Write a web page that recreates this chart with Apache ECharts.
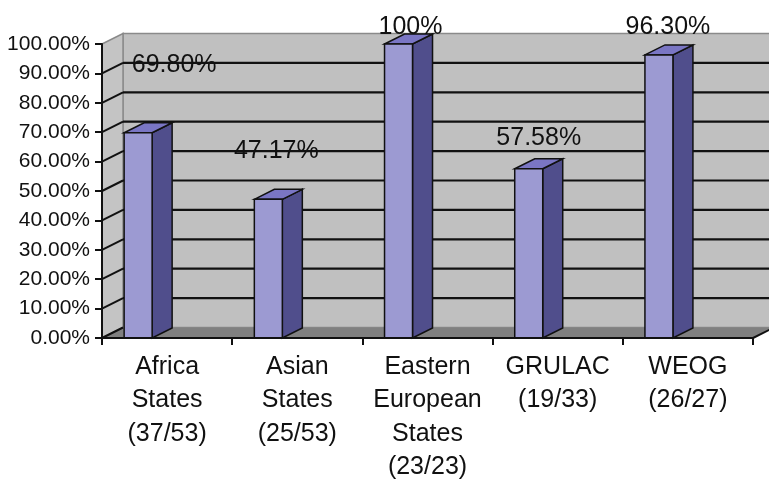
<!DOCTYPE html>
<html>
<head>
<meta charset="utf-8">
<script src="https://cdn.jsdelivr.net/npm/echarts@6/dist/echarts.min.js"></script>
<style>
  html, body { margin: 0; padding: 0; background: #fff; }
  #chart { width: 769px; height: 480px; }
</style>
</head>
<body>
<div id="chart"></div>
<script>
// data
let categories = ['Africa\nStates\n(37/53)', 'Asian\nStates\n(25/53)', 'Eastern\nEuropean\nStates\n(23/23)', 'GRULAC\n(19/33)', 'WEOG\n(26/27)'];
let shares = [0.698, 0.4717, 1.0, 0.5758, 0.963];
let shareLabels = ['69.80%', '47.17%', '100%', '57.58%', '96.30%'];
let gridValues = [0, 0.1, 0.2, 0.3, 0.4, 0.5, 0.6, 0.7, 0.8, 0.9, 1.0];

// label nudges (px), the labels were moved by hand in the original
let labelShift = [[36, -68], [8, -48], [12, -17], [10, -31], [9, -28]];

let font = '"Liberation Sans", Arial, sans-serif';
let depth = [21, -10.5];     // wall depth
let barDepth = [20, -10];    // column depth

function initChart(){
	let myChart = echarts.init(document.getElementById('chart'));

	function renderWalls(params, api){
		let cs = params.coordSys;
		let x0 = cs.x, x1 = cs.x + cs.width;
		let dx = depth[0], dy = depth[1];
		let yTop = api.coord([0, 1])[1];
		let yBot = api.coord([0, 0])[1];
		let children = [];
		// back wall
		children.push({
			type: 'polygon',
			shape: { points: [[x0 + dx, yTop + dy], [x1 + dx, yTop + dy], [x1 + dx, yBot + dy], [x0 + dx, yBot + dy]] },
			style: { fill: '#c0c0c0', stroke: '#8a8a8a', lineWidth: 1.5 }
		});
		// side wall
		children.push({
			type: 'polygon',
			shape: { points: [[x0, yTop], [x0 + dx, yTop + dy], [x0 + dx, yBot + dy], [x0, yBot]] },
			style: { fill: '#c4c4c4', stroke: '#8a8a8a', lineWidth: 1.5 }
		});
		// floor
		children.push({
			type: 'polygon',
			shape: { points: [[x0, yBot], [x0 + dx, yBot + dy], [x1 + dx, yBot + dy], [x1, yBot]] },
			style: { fill: '#808080' }
		});
		gridValues.forEach(function(v){
			if (v >= 1) return;
			let y = api.coord([0, v])[1];
			children.push({
				type: 'line',
				shape: { x1: x0, y1: y, x2: x0 + dx, y2: y + dy },
				style: { stroke: '#111', lineWidth: 2 }
			});
			if (v > 0) {
				children.push({
					type: 'line',
					shape: { x1: x0 + dx, y1: y + dy, x2: x1 + dx, y2: y + dy },
					style: { stroke: '#111', lineWidth: 2.2 }
				});
			}
		});
		// right edge of floor
		children.push({
			type: 'line',
			shape: { x1: x1, y1: yBot, x2: x1 + dx, y2: yBot + dy },
			style: { stroke: '#111', lineWidth: 2 }
		});
		return { type: 'group', children: children };
	}

	function renderBar(params, api){
		let idx = api.value(0);
		let val = api.value(1);
		let p = api.coord([idx, val]);
		let base = api.coord([idx, 0]);
		let band = api.size([1, 0])[0];
		let xl = p[0] - 0.33 * band;
		let w = 0.215 * band;
		let top = p[1], bot = base[1];
		let bx = barDepth[0], by = barDepth[1];
		let sh = labelShift[params.dataIndex];
		return {
			type: 'group',
			children: [{
				type: 'polygon',
				shape: { points: [[xl + w, top], [xl + w + bx, top + by], [xl + w + bx, bot + by], [xl + w, bot]] },
				style: { fill: '#504e8c', stroke: '#111', lineWidth: 1.5 }
			}, {
				type: 'polygon',
				shape: { points: [[xl, top], [xl + bx, top + by], [xl + w + bx, top + by], [xl + w, top]] },
				style: { fill: '#7a76c4', stroke: '#111', lineWidth: 1.5 }
			}, {
				type: 'rect',
				shape: { x: xl, y: top, width: w, height: bot - top },
				style: { fill: '#9c9ad2', stroke: '#111', lineWidth: 1.5 }
			}, {
				type: 'text',
				z2: 100,
				x: xl + w / 2 + sh[0],
				y: top + sh[1],
				style: {
					text: shareLabels[params.dataIndex],
					fill: '#111',
					font: '25px ' + font,
					align: 'center',
					verticalAlign: 'middle'
				}
			}]
		};
	}

	let option = {
	    backgroundColor: '#fff',
	    animation: false,
	    grid: {
	        left: 102,
	        right: 16,
	        top: 44,
	        bottom: 142,
	        containLabel: false,
	        outerBoundsMode: 'none'
	    },
	    xAxis: {
	        type: 'category',
	        data: categories,
	        axisLine: { lineStyle: { color: '#111', width: 2 } },
	        axisTick: { show: true, length: 7, lineStyle: { color: '#111', width: 2 } },
	        axisLabel: {
	            color: '#111',
	            fontFamily: font,
	            fontSize: 25,
	            lineHeight: 33.5,
	            margin: 12,
	            interval: 0
	        },
	        z: 10
	    },
	    yAxis: {
	        type: 'value',
	        min: 0,
	        max: 1,
	        interval: 0.1,
	        axisLine: { show: true, lineStyle: { color: '#111', width: 2 } },
	        axisTick: { show: true, length: 7, lineStyle: { color: '#111', width: 2 } },
	        splitLine: { show: false },
	        axisLabel: {
	            color: '#111',
	            fontFamily: font,
	            fontSize: 21,
	            margin: 12,
	            formatter: function(v){ return (v * 100).toFixed(2) + '%'; }
	        },
	        z: 10
	    },
	    series: [{
	        type: 'custom',
	        renderItem: renderWalls,
	        data: [[0, 0]],
	        z: 1,
	        silent: true
	    }, {
	        type: 'custom',
	        renderItem: renderBar,
	        data: shares.map(function(v, i){ return [i, v]; }),
	        z: 5
	    }]
	};
	myChart.setOption(option);
	return myChart
}
initChart();
</script>
</body>
</html>
